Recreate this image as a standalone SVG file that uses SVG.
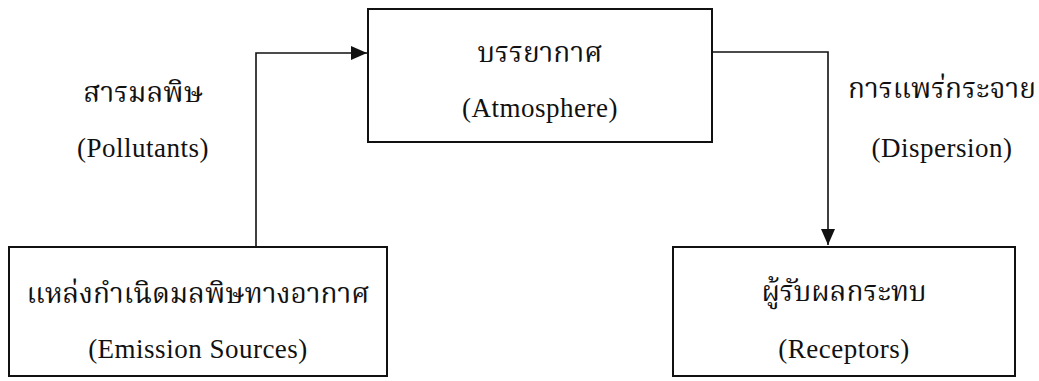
<svg xmlns="http://www.w3.org/2000/svg" width="1039" height="381" viewBox="0 0 1039 381">
  <style>
    .box { fill: #ffffff; stroke: #111111; stroke-width: 2; }
    .conn { fill: none; stroke: #111111; stroke-width: 1.6; }
    .th { font-family: "Liberation Serif", "Noto Serif Thai", "Noto Sans Thai", "DejaVu Sans", serif; font-size: 28px; fill: #111111; text-anchor: middle; }
    .en { font-family: "Liberation Serif", "Times New Roman", serif; font-size: 27px; fill: #111111; text-anchor: middle; letter-spacing: 0.5px; }
  </style>
  <defs>
    <marker id="arrow" viewBox="0 0 16 14" refX="16" refY="7" markerWidth="16" markerHeight="14" markerUnits="userSpaceOnUse" orient="auto">
      <path d="M0,0 L16,7 L0,14 Z" fill="#111111"/>
    </marker>
  </defs>
  <rect width="1039" height="381" fill="#ffffff"/>
  <g id="connectors">
    <path class="conn" d="M256,247 V53 H367" marker-end="url(#arrow)"/>
    <path class="conn" d="M712,52 H828 V245" marker-end="url(#arrow)"/>
  </g>
  <g id="node-atmosphere">
    <rect class="box" x="368" y="9" width="344" height="133"/>
    <text class="th" x="540" y="62">บรรยากาศ</text>
    <text class="en" x="540" y="117">(Atmosphere)</text>
  </g>
  <g id="node-emission">
    <rect class="box" x="9" y="247" width="378" height="129"/>
    <text class="th" x="198" y="303">แหล่งกำเนิดมลพิษทางอากาศ</text>
    <text class="en" x="198" y="358">(Emission Sources)</text>
  </g>
  <g id="node-receptors">
    <rect class="box" x="673" y="247" width="342" height="129"/>
    <text class="th" x="844" y="301">ผู้รับผลกระทบ</text>
    <text class="en" x="844" y="358">(Receptors)</text>
  </g>
  <g id="label-pollutants">
    <text class="th" x="143" y="102">สารมลพิษ</text>
    <text class="en" x="143" y="157">(Pollutants)</text>
  </g>
  <g id="label-dispersion">
    <text class="th" x="942" y="98">การแพร่กระจาย</text>
    <text class="en" x="942" y="157">(Dispersion)</text>
  </g>
</svg>
